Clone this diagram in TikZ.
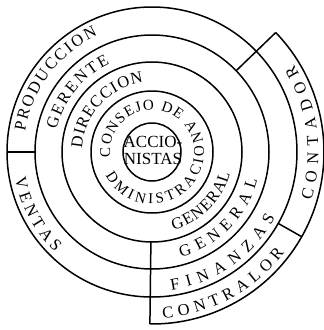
\documentclass[tikz,border=0pt]{standalone}
\usepackage{fontspec}
\setmainfont{Liberation Serif}
\usetikzlibrary{decorations.text}
\newcommand{\ringfont}{\fontsize{16.5}{16.5}\selectfont}
\newcommand{\innerfont}{\fontsize{15}{15}\selectfont}
\tikzset{
  ring/.style={line width=1.5pt},
  arclabel/.style={decorate, decoration={text along path, text={|\ringfont|#1}, text align=fit to path}},
  innerlabel/.style={decorate, decoration={text along path, text={|\innerfont|#1}, text align=fit to path}}
}
\begin{document}
\begin{tikzpicture}[x=1pt, y=1pt]
  \useasboundingbox (0,0) rectangle (324,-330);
  \coordinate (O) at (152,-152);
  \begin{scope}[shift={(O)}]
    \foreach \r in {29,61,90,117,145}
      \draw[ring] (0,0) circle[radius=\r];
    \draw[ring] (-90.7:172) arc[start angle=-90.7, end angle=44, radius=172];
    \draw[ring] (180:117) -- (180:145);
    \draw[ring] (44:117) -- (44:172);
    \draw[ring] (-29.5:145) -- (-29.5:172);
    \draw[ring] (-90.7:90) -- (-90.7:172);
    \path[innerlabel={CONSEJO DE A}] (187:42) arc[start angle=187, end angle=26, radius=42];
    \path[innerlabel={DMINISTRACION}] (207:52) arc[start angle=207, end angle=383, radius=52];
    \path[arclabel={DIRECCION}] (177:70) arc[start angle=177, end angle=97, radius=70];
    \path[arclabel={GENERAL}] (-74.5:81) arc[start angle=-74.5, end angle=-15.5, radius=81];
    \path[arclabel={GERENTE}] (167:98) arc[start angle=167, end angle=115.5, radius=98];
    \path[arclabel={GENERAL}] (-74.5:109) arc[start angle=-74.5, end angle=-15, radius=109];
    \path[arclabel={PRODUCCION}] (171:128.5) arc[start angle=171, end angle=115, radius=128.5];
    \path[arclabel={VENTAS}] (191:139.5) arc[start angle=191, end angle=226, radius=139.5];
    \path[arclabel={FINANZAS}] (-82:139.5) arc[start angle=-82, end angle=-28, radius=139.5];
    \path[arclabel={CONTRALOR}] (-86.3:166.5) arc[start angle=-86.3, end angle=-37.4, radius=166.5];
    \path[arclabel={CONTADOR}] (-17:166.5) arc[start angle=-17, end angle=31.5, radius=166.5];
  \end{scope}
  \node[font=\fontsize{17}{17}\selectfont, align=center, inner sep=0pt] (acc) at (153,-150) {ACCIO-\\NISTAS};
\end{tikzpicture}
\end{document}
